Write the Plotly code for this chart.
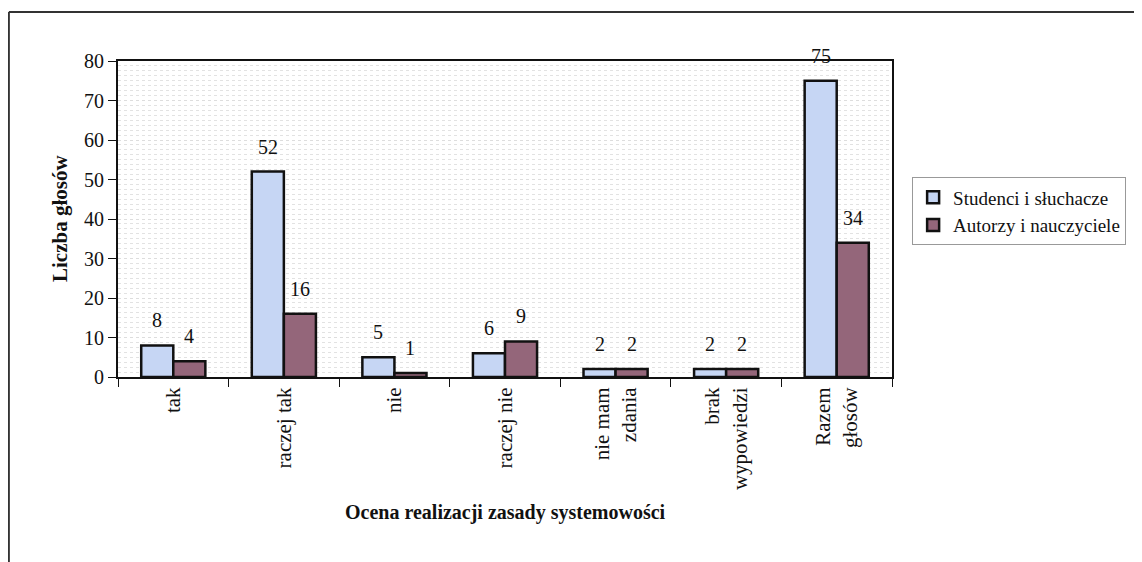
import plotly.graph_objects as go

categories = ["tak", "raczej tak", "nie", "raczej nie", "nie mam<br>zdania",
              "brak<br>wypowiedzi", "Razem<br>głosów"]
studenci = [8, 52, 5, 6, 2, 2, 75]
autorzy = [4, 16, 1, 9, 2, 2, 34]
series_names = ["Studenci i słuchacze", "Autorzy i nauczyciele"]
y_ticks = [0, 10, 20, 30, 40, 50, 60, 70, 80]

FONT = "Liberation Serif, Times New Roman, serif"
BLUE = "#c6d6f4"
MAROON = "#94667a"
INK = "#111111"

fig = go.Figure()
fig.add_trace(go.Bar(x=categories, y=studenci, name=series_names[0],
                     marker=dict(color=BLUE, line=dict(color=INK, width=2.5))))
fig.add_trace(go.Bar(x=categories, y=autorzy, name=series_names[1],
                     marker=dict(color=MAROON, line=dict(color=INK, width=2.5))))

annotations = []
for vals, shift in ((studenci, -16), (autorzy, 16)):
    for c, v in zip(categories, vals):
        annotations.append(dict(x=c, y=v, xref="x", yref="y", text=str(v),
                                showarrow=False, xshift=shift, yshift=12,
                                yanchor="bottom",
                                font=dict(family=FONT, size=20, color=INK)))

annotations.append(dict(text="<b>Ocena realizacji zasady systemowości</b>",
                        xref="paper", yref="paper", x=0.5, y=0, yshift=-135,
                        showarrow=False, yanchor="middle",
                        font=dict(family=FONT, size=20, color=INK)))
annotations.append(dict(text="<b>Liczba głosów</b>", textangle=-90,
                        xref="paper", yref="paper", x=0, xshift=-58, y=0.5,
                        showarrow=False, xanchor="center",
                        font=dict(family=FONT, size=21, color=INK)))

fig.update_layout(
    width=1142, height=562,
    margin=dict(l=110, r=258, t=53, b=193),
    paper_bgcolor="white", plot_bgcolor="white",
    barmode="group", bargap=0.42, bargroupgap=0,
    font=dict(family=FONT, size=20, color=INK),
    showlegend=True,
    legend=dict(x=1.026, y=0.524, xanchor="left", yanchor="middle",
                bordercolor="#999999", borderwidth=1,
                font=dict(family=FONT, size=19, color=INK),
                itemwidth=30, tracegroupgap=4),
    annotations=annotations,
    xaxis=dict(type="category", tickson="boundaries", ticks="outside",
               ticklen=8, tickwidth=1, tickcolor=INK,
               tickangle=-90, showline=True, linecolor=INK,
               linewidth=2, mirror=True, showgrid=False,
               tickfont=dict(family=FONT, size=21, color=INK)),
    yaxis=dict(range=[0, 80], tickvals=y_ticks, ticks="outside",
               ticklen=8, tickwidth=1, tickcolor=INK,
               showline=True, linecolor=INK, linewidth=2, mirror=True,
               showgrid=True, gridcolor="#dddddd", griddash="dot", gridwidth=1,
               minor=dict(dtick=1.25, showgrid=True, gridcolor="#e2e2e2",
                          griddash="dot", gridwidth=1),
               zeroline=False,
               tickfont=dict(family=FONT, size=20, color=INK)),
    shapes=[
        dict(type="line", xref="paper", yref="paper", x0=-0.141, x1=1.34,
             y0=1.155, y1=1.155, line=dict(color="#333333", width=2)),
        dict(type="line", xref="paper", yref="paper", x0=-0.141, x1=-0.141,
             y0=1.155, y1=-0.62, line=dict(color="#333333", width=2)),
    ],
)

fig.write_html("out.html")
